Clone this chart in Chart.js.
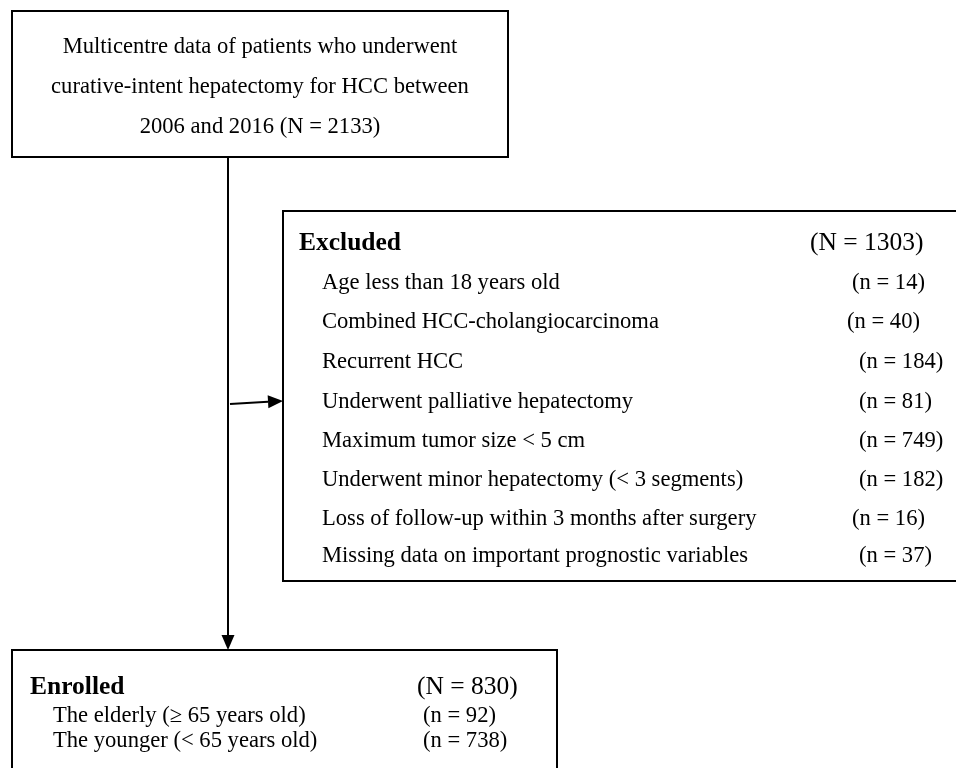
<!DOCTYPE html>
<html>
<head>
<meta charset="utf-8">
<script src="https://cdn.jsdelivr.net/npm/chart.js@4/dist/chart.umd.min.js"></script>
<style>
html,body{margin:0;padding:0;background:#fff;}
#wrap{width:956px;height:768px;position:relative;}
</style>
</head>
<body>
<div id="wrap"><canvas id="c" width="956" height="768"></canvas></div>
<script>
// ---- data ----
const sourceLines = ["Multicentre data of patients who underwent", "curative-intent hepatectomy for HCC between", "2006 and 2016 (N = 2133)"];
const excludedTitle = "Excluded";
const excludedTotal = 1303;
const excludedReasons = [
  "Age less than 18 years old",
  "Combined HCC-cholangiocarcinoma",
  "Recurrent HCC",
  "Underwent palliative hepatectomy",
  "Maximum tumor size < 5 cm",
  "Underwent minor hepatectomy (< 3 segments)",
  "Loss of follow-up within 3 months after surgery",
  "Missing data on important prognostic variables"
];
const excludedCounts = [14, 40, 184, 81, 749, 182, 16, 37];
const enrolledTitle = "Enrolled";
const enrolledTotal = 830;
const enrolledGroups = ["The elderly (\u2265 65 years old)", "The younger (< 65 years old)"];
const enrolledCounts = [92, 738];

// ---- layout (positions in a 956 x 768 coordinate space) ----
const layout = {
  topBox: {x0: 12, y0: 11, x1: 508, y1: 157, cx: 260, lineY: [47, 87, 127]},
  exBox: {x0: 283, y0: 211, x1: 960, y1: 581, titleX: 299, titleY: 243, totalX: 810,
          itemX: 322, itemY: [283, 322, 362, 402, 441, 480, 519, 556],
          countX: [852, 847, 859, 859, 859, 859, 852, 859]},
  enBox: {x0: 12, y0: 650, x1: 557, y1: 775, titleX: 30, titleY: 687, totalX: 417,
          itemX: 53, itemY: [716, 741], countX: [423, 423]},
  vArrow: {x: 228, y0: 157, y1: 650},
  hArrow: {x0: 230, y0: 404, x1: 283, y1: 401}
};

const FONT = '"Liberation Serif", "Times New Roman", serif';

const flowPlugin = {
  id: 'flow',
  afterDraw(chart) {
    const ctx = chart.ctx;
    const xs = chart.scales.x, ys = chart.scales.y;
    const X = v => xs.getPixelForValue(v);
    const Y = v => ys.getPixelForValue(v);
    ctx.save();
    ctx.strokeStyle = '#000';
    ctx.fillStyle = '#000';
    ctx.lineWidth = 2;
    function box(b) {
      ctx.strokeRect(X(b.x0), Y(b.y0), X(b.x1) - X(b.x0), Y(b.y1) - Y(b.y0));
    }
    function text(t, x, y, font, align) {
      ctx.font = font;
      ctx.textAlign = align || 'left';
      ctx.textBaseline = 'middle';
      ctx.fillText(t, X(x), Y(y));
    }
    function arrow(x0, y0, x1, y1) {
      const px0 = X(x0), py0 = Y(y0), px1 = X(x1), py1 = Y(y1);
      const ang = Math.atan2(py1 - py0, px1 - px0);
      const hl = 15, hw = 6.5;
      ctx.beginPath();
      ctx.moveTo(px0, py0);
      ctx.lineTo(px1 - hl * Math.cos(ang), py1 - hl * Math.sin(ang));
      ctx.stroke();
      ctx.beginPath();
      ctx.moveTo(px1, py1);
      ctx.lineTo(px1 - hl * Math.cos(ang) + hw * Math.sin(ang), py1 - hl * Math.sin(ang) - hw * Math.cos(ang));
      ctx.lineTo(px1 - hl * Math.cos(ang) - hw * Math.sin(ang), py1 - hl * Math.sin(ang) + hw * Math.cos(ang));
      ctx.closePath();
      ctx.fill();
    }
    const reg = '22.6px ' + FONT;
    const bold = 'bold 25.5px ' + FONT;
    const head = '25.5px ' + FONT;
    // top box
    const t = layout.topBox;
    box(t);
    sourceLines.forEach((s, i) => text(s, t.cx, t.lineY[i], reg, 'center'));
    // excluded box
    const e = layout.exBox;
    box(e);
    text(excludedTitle, e.titleX, e.titleY, bold);
    text('(N = ' + excludedTotal + ')', e.totalX, e.titleY, head);
    excludedReasons.forEach((r, i) => {
      text(r, e.itemX, e.itemY[i], reg);
      text('(n = ' + excludedCounts[i] + ')', e.countX[i], e.itemY[i], reg);
    });
    // enrolled box
    const n = layout.enBox;
    box(n);
    text(enrolledTitle, n.titleX, n.titleY, bold);
    text('(N = ' + enrolledTotal + ')', n.totalX, n.titleY, head);
    enrolledGroups.forEach((g, i) => {
      text(g, n.itemX, n.itemY[i], reg);
      text('(n = ' + enrolledCounts[i] + ')', n.countX[i], n.itemY[i], reg);
    });
    // arrows
    const v = layout.vArrow;
    arrow(v.x, v.y0, v.x, v.y1);
    const h = layout.hArrow;
    arrow(h.x0, h.y0, h.x1, h.y1);
    ctx.restore();
  }
};

new Chart(document.getElementById('c'), {
  type: 'scatter',
  data: {datasets: [{data: [], pointRadius: 0}]},
  options: {
    responsive: false,
    animation: false,
    layout: {padding: 0},
    plugins: {legend: {display: false}, tooltip: {enabled: false}},
    scales: {
      x: {type: 'linear', min: 0, max: 956, display: false},
      y: {type: 'linear', min: 0, max: 768, reverse: true, display: false}
    }
  },
  plugins: [flowPlugin]
});
</script>
</body>
</html>
